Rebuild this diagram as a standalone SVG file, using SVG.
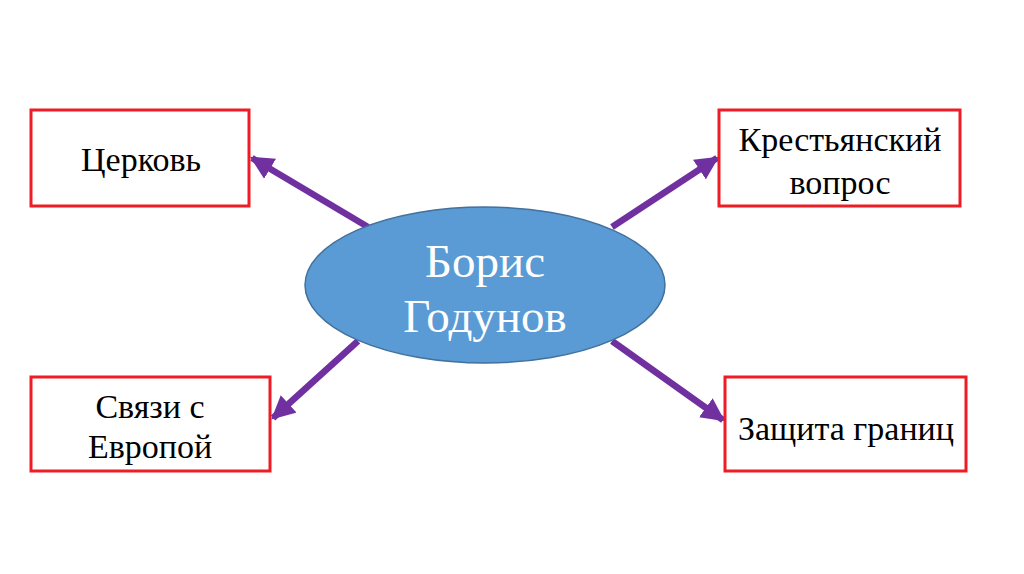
<svg xmlns="http://www.w3.org/2000/svg" width="1024" height="574" viewBox="0 0 1024 574">
<defs>
<style>
.box{fill:#fff;stroke:#ee1c24;stroke-width:3}
.t{font-family:"Liberation Serif","Times New Roman",serif;font-size:34px;fill:#000;text-anchor:middle}
.c{font-family:"Liberation Serif","Times New Roman",serif;font-size:47px;fill:#fff;text-anchor:middle}
.arr{stroke:#7030a0;stroke-width:6.5;fill:none;marker-end:url(#ah)}
</style>
<marker id="ah" viewBox="0 0 10 10" refX="9" refY="5" markerWidth="3.6" markerHeight="3.6" orient="auto" markerUnits="strokeWidth">
<path d="M0,0 L10,5 L0,10 z" fill="#7030a0"/>
</marker>
</defs>
<rect width="1024" height="574" fill="#fff"/>
<g id="connectors">
<line class="arr" x1="368" y1="227" x2="252" y2="158"/>
<line class="arr" x1="612" y1="227" x2="717" y2="158"/>
<line class="arr" x1="358" y1="341" x2="273" y2="418"/>
<line class="arr" x1="612" y1="341" x2="723" y2="420"/>
</g>
<g id="center">
<ellipse cx="485" cy="285" rx="180" ry="78" fill="#5b9bd5" stroke="#41719c" stroke-width="1.5"/>
<text class="c" x="485" y="277">Борис</text>
<text class="c" x="485" y="332">Годунов</text>
</g>
<g id="church">
<rect class="box" x="31" y="110" width="218" height="96"/>
<text class="t" x="141" y="171">Церковь</text>
</g>
<g id="peasant">
<rect class="box" x="719" y="110" width="241" height="96"/>
<text class="t" x="840" y="151">Крестьянский</text>
<text class="t" x="840" y="194">вопрос</text>
</g>
<g id="europe">
<rect class="box" x="31" y="377" width="239" height="94"/>
<text class="t" x="150" y="418">Связи с</text>
<text class="t" x="150" y="458">Европой</text>
</g>
<g id="border">
<rect class="box" x="725" y="377" width="241" height="94"/>
<text class="t" x="846" y="440">Защита границ</text>
</g>
</svg>
